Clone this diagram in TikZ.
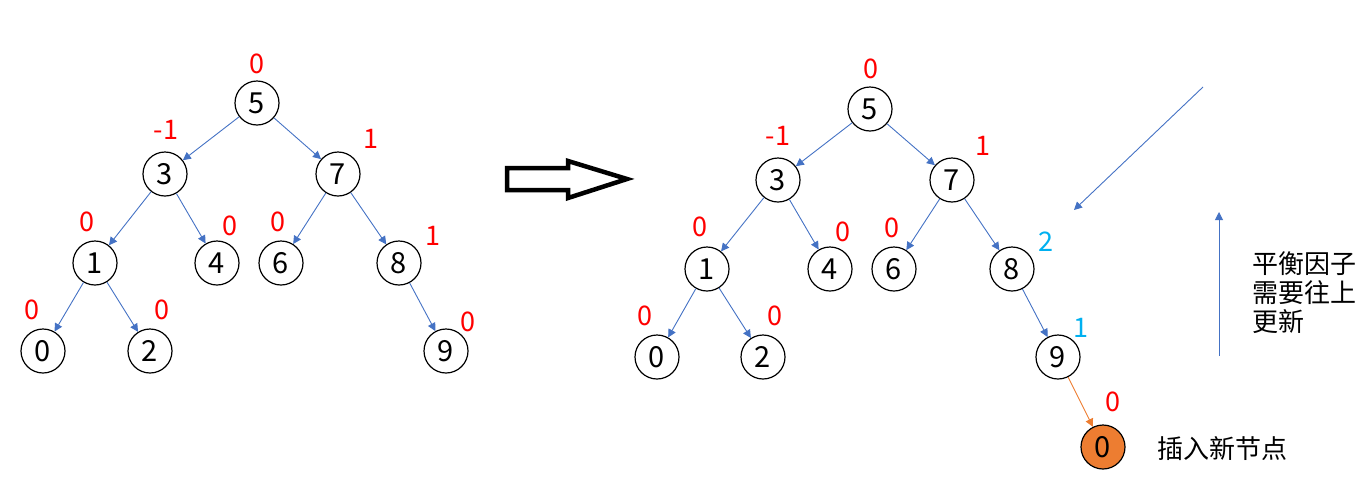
\documentclass[tikz,border=0pt]{standalone}
\usepackage{fontspec}
\setmainfont{Noto Sans CJK SC}
\usetikzlibrary{arrows.meta}
\definecolor{eblue}{HTML}{4472C4}
\definecolor{bfred}{HTML}{FF0000}
\definecolor{bfcyan}{HTML}{00B0F0}
\definecolor{neworange}{HTML}{ED7D31}
\tikzset{
  tn/.style={circle,draw=black,line width=1.2pt,minimum size=44pt,inner sep=0pt,font=\fontsize{29}{29}\selectfont},
  newtn/.style={tn,fill=neworange},
  edge/.style={draw=eblue,line width=0.9pt,-{Triangle[length=8pt,width=8pt]}},
  newedge/.style={draw=neworange,line width=0.9pt,-{Triangle[length=8pt,width=8pt]}},
  bf/.style={text=bfred,inner sep=0pt,font=\fontsize{27}{27}\selectfont},
  bfc/.style={bf,text=bfcyan},
  note/.style={inner sep=0pt,anchor=west,align=left,font=\fontsize{26}{29}\selectfont},
  bigarrow/.style={draw=black,line width=4.5pt,line join=miter,fill=white}
}
\begin{document}
\begin{tikzpicture}[x=1pt,y=-1pt]
\useasboundingbox (0,0) rectangle (1363,488);
% ---- left tree ----
\node[tn] (L5) at (257,103) {5};
\node[tn] (L3) at (165,174) {3};
\node[tn] (L7) at (338,174) {7};
\node[tn] (L1) at (95,263) {1};
\node[tn] (L4) at (217,263) {4};
\node[tn] (L6) at (281,263) {6};
\node[tn] (L8) at (399,263) {8};
\node[tn] (L0) at (43,351) {0};
\node[tn] (L2) at (150,351) {2};
\node[tn] (L9) at (446,351) {9};
\draw[edge] (L5) -- (L3);
\draw[edge] (L5) -- (L7);
\draw[edge] (L3) -- (L1);
\draw[edge] (L3) -- (L4);
\draw[edge] (L7) -- (L6);
\draw[edge] (L7) -- (L8);
\draw[edge] (L1) -- (L0);
\draw[edge] (L1) -- (L2);
\draw[edge] (L8) -- (L9);
\node[bf] (bL5) at (257,64) {0};
\node[bf] (bL3) at (166,130) {-1};
\node[bf] (bL7) at (371,139) {1};
\node[bf] (bL1) at (87,222) {0};
\node[bf] (bL4) at (230,226) {0};
\node[bf] (bL6) at (278,222) {0};
\node[bf] (bL8) at (433,236) {1};
\node[bf] (bL0) at (32,310) {0};
\node[bf] (bL2) at (162,310) {0};
\node[bf] (bL9) at (468,322) {0};
% ---- big hollow arrow ----
\draw[bigarrow] (507,168) -- (568,168) -- (568,161) -- (627,179) -- (568,198) -- (568,190) -- (507,190) -- cycle;
% ---- right tree ----
\node[tn] (R5) at (870,109) {5};
\node[tn] (R3) at (778,180) {3};
\node[tn] (R7) at (952,180) {7};
\node[tn] (R1) at (707,269) {1};
\node[tn] (R4) at (830,269) {4};
\node[tn] (R6) at (894,269) {6};
\node[tn] (R8) at (1012,269) {8};
\node[tn] (R0) at (657,357) {0};
\node[tn] (R2) at (763,357) {2};
\node[tn] (R9) at (1058,357) {9};
\node[newtn] (RN) at (1103,447) {0};
\draw[edge] (R5) -- (R3);
\draw[edge] (R5) -- (R7);
\draw[edge] (R3) -- (R1);
\draw[edge] (R3) -- (R4);
\draw[edge] (R7) -- (R6);
\draw[edge] (R7) -- (R8);
\draw[edge] (R1) -- (R0);
\draw[edge] (R1) -- (R2);
\draw[edge] (R8) -- (R9);
\draw[newedge] (R9) -- (RN);
\node[bf] (bR5) at (871,69) {0};
\node[bf] (bR3) at (778,136) {-1};
\node[bf] (bR7) at (983,146) {1};
\node[bf] (bR1) at (700,227) {0};
\node[bf] (bR4) at (843,232) {0};
\node[bf] (bR6) at (892,228) {0};
\node[bfc] (bR8) at (1046,242) {2};
\node[bf] (bR0) at (645,316) {0};
\node[bf] (bR2) at (775,316) {0};
\node[bfc] (bR9) at (1081,328) {1};
\node[bf] (bRN) at (1113,402) {0};
% ---- annotations ----
\coordinate (dA) at (1203,87);
\coordinate (dB) at (1074,210);
\draw[edge] (dA) -- (dB);
\coordinate (uA) at (1219,356);
\coordinate (uB) at (1219,212);
\draw[edge] (uA) -- (uB);
\node[note] (upd) at (1252,293) {平衡因子\\需要往上\\更新};
\node[note] (ins) at (1157,449) {插入新节点};
\end{tikzpicture}
\end{document}
